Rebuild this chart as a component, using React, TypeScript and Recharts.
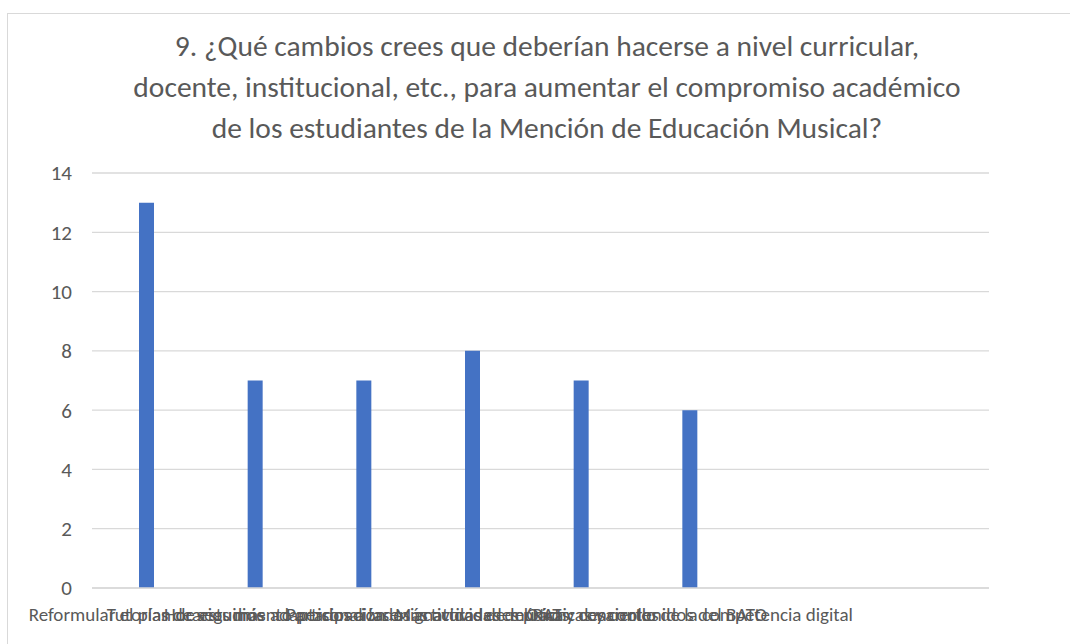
import { BarChart, Bar, XAxis, YAxis, CartesianGrid } from 'recharts';

// Answers to question 9 and how many students picked each one
const categories = [
  'Reformular el plan de estudios',
  'Tutorías de seguimiento personalizado',
  'Horarios más adaptados a las asignaturas de música',
  'Participación en actividades del RAT y conciertos',
  'Más actividades prácticas y contenidos del BATO',
  'Otros: desarrollo de la competencia digital',
];
const responses = [13, 7, 7, 8, 7, 6];
const yTicks = [0, 2, 4, 6, 8, 10, 12, 14];

const titleLines = [
  '9. ¿Qué cambios crees que deberían hacerse a nivel curricular,',
  'docente, institucional, etc., para aumentar el compromiso académico',
  'de los estudiantes de la Mención de Educación Musical?',
];

const chartData = categories.map((name, i) => ({ name, value: responses[i] }));

const FONT = 'Carlito, Calibri, "Liberation Sans", sans-serif';
const TEXT = '#595959';
const GRID = '#d9d9d9';

export default function App() {
  return (
    <div style={{ position: 'fixed', left: 0, top: 0, width: 1070, height: 644, overflow: 'hidden', background: '#fff', fontFamily: FONT }}>
      <div style={{ position: 'absolute', left: 7, top: 13, width: 1100, height: 700, border: `1px solid ${GRID}` }} />
      <div style={{ position: 'absolute', left: 0, top: 26, width: 1094, textAlign: 'center', color: TEXT, fontSize: 29.5, lineHeight: '41px' }}>
        {titleLines.map((line) => (
          <div key={line}>{line}</div>
        ))}
      </div>
      <div style={{ position: 'absolute', left: 0, top: 0 }}>
        <BarChart width={1070} height={644} data={chartData} margin={{ top: 173, right: 81, bottom: 14, left: 0 }}>
          <CartesianGrid vertical={false} stroke={GRID} strokeWidth={1.3} />
          <XAxis
            dataKey="name"
            interval={0}
            axisLine={{ stroke: GRID, strokeWidth: 1.3 }}
            tickLine={false}
            height={42}
            tickMargin={14}
            padding={{ left: 0, right: 245 }}
            fontSize={19}
            tick={{ fill: TEXT, fontSize: 19, fontFamily: FONT }}
          />
          <YAxis
            domain={[0, 14]}
            ticks={yTicks}
            width={92}
            axisLine={false}
            tickLine={false}
            tickMargin={14}
            fontSize={21}
            tick={{ fill: TEXT, fontSize: 21, fontFamily: FONT }}
          />
          <Bar dataKey="value" fill="#4472c4" barSize={15} isAnimationActive={false} />
        </BarChart>
      </div>
    </div>
  );
}
